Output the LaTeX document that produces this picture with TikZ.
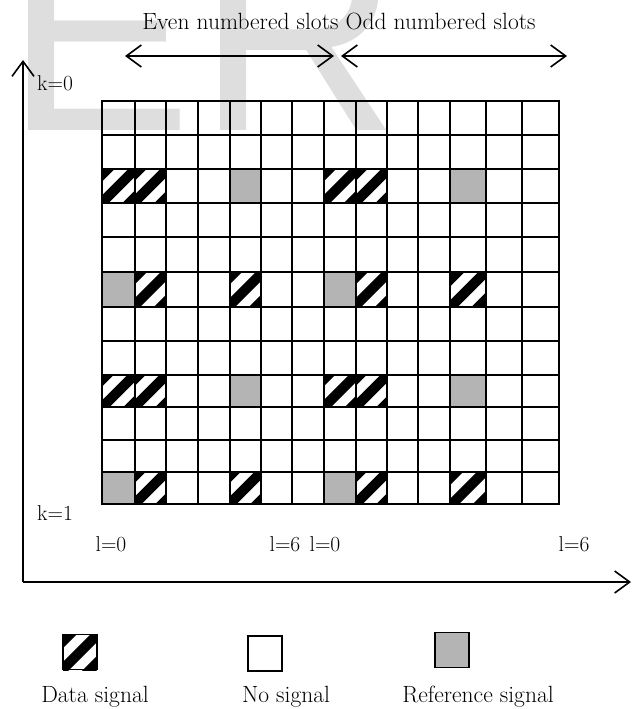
\documentclass[tikz,border=0pt]{standalone}
\usepackage{fontspec}
\newfontfamily\wmfont{Liberation Sans}
\usetikzlibrary{arrows.meta}
\definecolor{refgray}{RGB}{180,180,180}
\definecolor{wmgray}{RGB}{222,222,222}
\def\XA{{102,135,166,198,230,261,292,324,356,387,418,450,486,522,559}}
\def\YA{{101,135,169,203,237,272,307,341,375,407,440,472,504}}
\newcommand\stripebox[4]{%
  \begin{scope}
    \clip (#1,#2) rectangle (#3,#4);
    \fill[white] (#1,#2) rectangle (#3,#4);
    \pgfmathsetmacro\cx{(#1+#3)/2}\pgfmathsetmacro\cy{(#2+#4)/2}
    \foreach \o in {-28,0,28}
      \draw[line width=10pt] (\cx+\o-30,\cy+30) -- (\cx+\o+30,\cy-30);
  \end{scope}}
\newcommand\datacell[2]{%
  \pgfmathsetmacro\xa{\XA[#2]}\pgfmathsetmacro\xb{\XA[#2+1]}%
  \pgfmathsetmacro\ya{\YA[#1]}\pgfmathsetmacro\yb{\YA[#1+1]}%
  \stripebox{\xa}{\ya}{\xb}{\yb}}
\newcommand\refcell[2]{%
  \pgfmathsetmacro\xa{\XA[#2]}\pgfmathsetmacro\xb{\XA[#2+1]}%
  \pgfmathsetmacro\ya{\YA[#1]}\pgfmathsetmacro\yb{\YA[#1+1]}%
  \fill[refgray] (\xa,\ya) rectangle (\xb,\yb);}
\begin{document}
\begin{tikzpicture}[x=1pt,y=-1pt,
  >={Straight Barb[length=15pt,width=22pt,line width=1.6pt]},
  lbl/.style={font=\fontsize{21.5}{24}\selectfont, inner sep=0pt},
  word/.style={font=\fontsize{23.5}{26}\selectfont, inner sep=0pt, anchor=base},
  gridline/.style={line width=1.8pt, line cap=rect},
  axisarrow/.style={line width=1.6pt, ->},
  dblarrow/.style={line width=1.6pt, <->},
  legbox/.style={draw, line width=1.5pt, minimum width=34pt, minimum height=35pt, inner sep=0pt}]
\useasboundingbox (0,0) rectangle (633,709);
% watermark
\begin{scope}
  \clip (0,0) rectangle (633,709);
  \node[anchor=base west, inner sep=0pt, text=wmgray, font=\fontsize{280}{280}\selectfont\wmfont] (wmE) at (5,130) {E};
  \node[anchor=base west, inner sep=0pt, text=wmgray, font=\fontsize{280}{280}\selectfont\wmfont] (wmR) at (197,130) {R};
\end{scope}
% cells
\foreach \r/\c in {2/0,2/1,2/7,2/8,5/1,5/4,5/8,5/11,8/0,8/1,8/7,8/8,11/1,11/4,11/8,11/11}
  {\datacell{\r}{\c}}
\foreach \r/\c in {2/4,2/11,5/0,5/7,8/4,8/11,11/0,11/7}
  {\refcell{\r}{\c}}
% grid lines
\foreach \x in {102,135,166,198,230,261,292,324,356,387,418,450,486,522,559}
  \draw[gridline] (\x,101) -- (\x,504);
\foreach \y in {101,135,169,203,237,272,307,341,375,407,440,472,504}
  \draw[gridline] (102,\y) -- (559,\y);
% title and slot arrows
\node[word] (title) at (339,30) {Even numbered slots Odd numbered slots};
\coordinate (evenL) at (125,56);
\coordinate (evenR) at (334,56);
\coordinate (oddL) at (341,56);
\coordinate (oddR) at (567,56);
\draw[dblarrow] (evenL) -- (evenR);
\draw[dblarrow] (oddL) -- (oddR);
% axes
\coordinate (origin) at (23,582);
\coordinate (ytip) at (23,60);
\coordinate (xtip) at (631,582);
\draw[axisarrow] (origin) -- (ytip);
\draw[axisarrow] (origin) -- (xtip);
% labels
\node[lbl] (k0) at (55,83) {k=0};
\node[lbl] (k1) at (55,513) {k=1};
\node[lbl] (l0a) at (111,544) {l=0};
\node[lbl] (l6a) at (285,544) {l=6};
\node[lbl] (l0b) at (325,544) {l=0};
\node[lbl] (l6b) at (574,544) {l=6};
% legend
\stripebox{63}{634}{97}{670}
\node[legbox] (legdata) at (80,652) {};
\node[legbox] (legno) at (265,653.5) {};
\node[legbox, fill=refgray] (legref) at (452,650) {};
\node[word] (tdata) at (95,702) {Data signal};
\node[word] (tno) at (286,702) {No signal};
\node[word] (tref) at (478,702) {Reference signal};
\end{tikzpicture}
\end{document}
